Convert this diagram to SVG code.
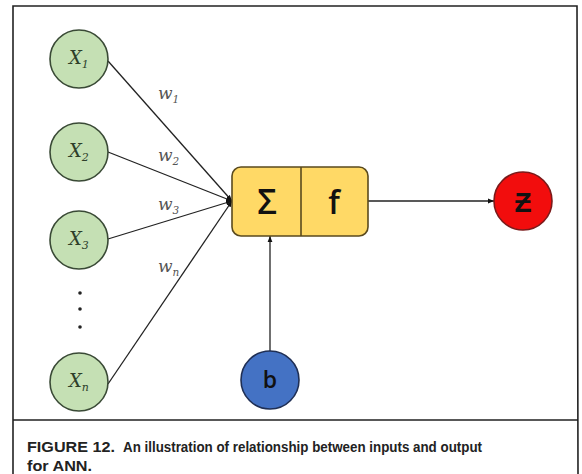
<svg xmlns="http://www.w3.org/2000/svg" width="582" height="474" viewBox="0 0 582 474">
<defs>
<style>
.frame{fill:none;stroke:#222;stroke-width:1.6}
.in{fill:#c5e0b4;stroke:#3a4a36;stroke-width:1.6}
.xl{font-family:"DejaVu Serif","Liberation Serif",serif;font-style:italic;font-size:18px;fill:#2e3f2a}
.sub{font-size:11px}
.wl{font-family:"DejaVu Serif","Liberation Serif",serif;font-style:italic;font-size:17px;fill:#555}
.wsub{font-size:10.5px}
.con{stroke:#222;stroke-width:1.3;fill:none}
.cap{font-family:"Liberation Sans",Arial,sans-serif;font-weight:bold;font-size:15.5px;fill:#222}
.big{font-family:"Open Sans","Liberation Sans",sans-serif;font-weight:600;fill:#111}
</style>
<marker id="ah" viewBox="0 0 10 10" refX="10" refY="5" markerWidth="6" markerHeight="6" orient="auto" markerUnits="userSpaceOnUse">
<path d="M0,1 L10,5 L0,9 z" fill="#111"/>
</marker>
</defs>
<rect width="582" height="474" fill="#fff"/>
<path class="frame" d="M13,474 L13,6 L577,6 L578,474 M13,420 L578,420"/>
<g id="connectors">
<line class="con" x1="108" y1="61" x2="232" y2="201" marker-end="url(#ah)"/>
<line class="con" x1="108" y1="152" x2="232" y2="201" marker-end="url(#ah)"/>
<line class="con" x1="108" y1="239" x2="232" y2="201" marker-end="url(#ah)"/>
<line class="con" x1="108" y1="384" x2="232" y2="201" marker-end="url(#ah)"/>
<line class="con" x1="368" y1="201" x2="494" y2="201" marker-end="url(#ah)"/>
<line class="con" x1="270" y1="351" x2="270" y2="236" marker-end="url(#ah)"/>
<text class="wl" x="158" y="99">w<tspan class="wsub" dy="4">1</tspan></text>
<text class="wl" x="158" y="161">w<tspan class="wsub" dy="4">2</tspan></text>
<text class="wl" x="158" y="210">w<tspan class="wsub" dy="4">3</tspan></text>
<text class="wl" x="158" y="272">w<tspan class="wsub" dy="4">n</tspan></text>
</g>
<g id="x1"><circle class="in" cx="79" cy="59" r="29"/><text class="xl" x="69" y="64">X<tspan class="sub" dy="4">1</tspan></text></g>
<g id="x2"><circle class="in" cx="79" cy="152" r="29"/><text class="xl" x="69" y="157">X<tspan class="sub" dy="4">2</tspan></text></g>
<g id="x3"><circle class="in" cx="79" cy="240" r="29"/><text class="xl" x="69" y="245">X<tspan class="sub" dy="4">3</tspan></text></g>
<g id="dots" fill="#222"><circle cx="80" cy="293" r="1.8"/><circle cx="80" cy="309" r="1.8"/><circle cx="80" cy="327" r="1.8"/></g>
<g id="xn"><circle class="in" cx="79" cy="382" r="29"/><text class="xl" x="69" y="387">X<tspan class="sub" dy="4">n</tspan></text></g>
<g id="sumf">
<rect x="232" y="167" width="136" height="69" rx="9" fill="#ffd966" stroke="#5a4a1e" stroke-width="1.6"/>
<line x1="301" y1="167" x2="301" y2="236" stroke="#5a4a1e" stroke-width="1.6"/>
<text class="big" x="267" y="214" font-size="34" text-anchor="middle">Σ</text>
<text class="big" x="334" y="214" font-size="32" text-anchor="middle">f</text>
</g>
<g id="z"><circle cx="523" cy="201" r="29" fill="#f20d0d" stroke="#7a1a1a" stroke-width="1.6"/><text class="big" x="523" y="212" font-size="28" text-anchor="middle" fill="#2a0a0a">Ƶ</text></g>
<g id="b"><circle cx="270" cy="380" r="29" fill="#4472c4" stroke="#1f2f55" stroke-width="1.6"/><text class="big" x="270" y="388" font-size="23" text-anchor="middle" fill="#1a2850">b</text></g>
<text class="cap" x="27" y="452" textLength="88" lengthAdjust="spacingAndGlyphs">FIGURE 12.</text>
<text class="cap" x="123" y="452" textLength="359" lengthAdjust="spacingAndGlyphs">An illustration of relationship between inputs and output</text>
<text class="cap" x="27" y="471" textLength="65" lengthAdjust="spacingAndGlyphs">for ANN.</text>
</svg>
